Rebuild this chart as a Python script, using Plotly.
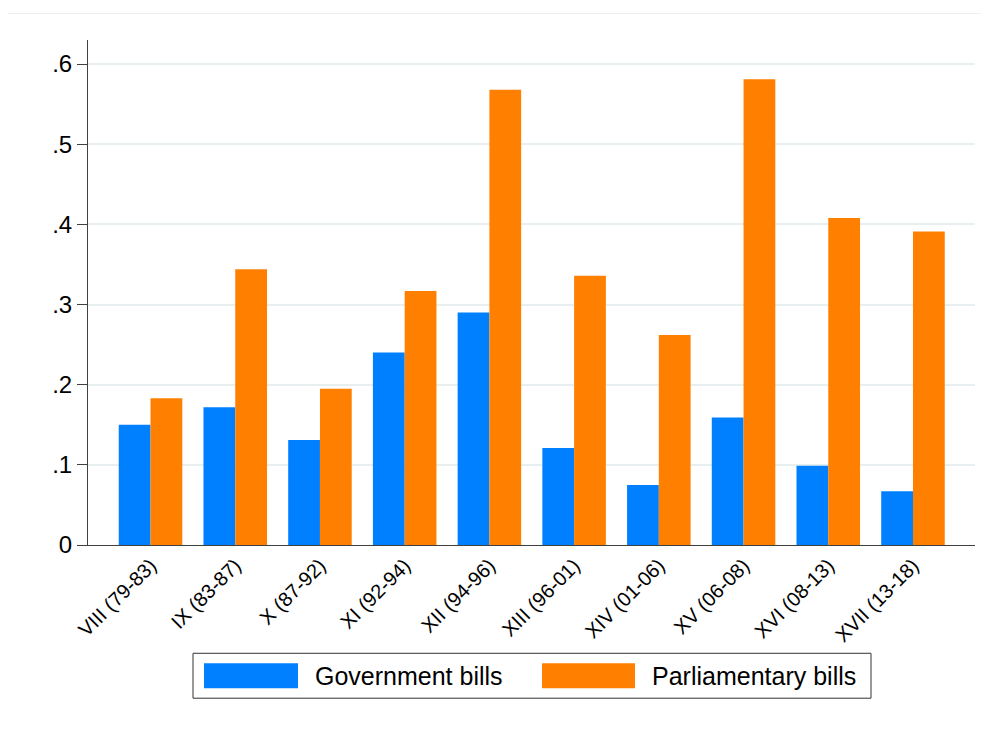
import plotly.graph_objects as go

categories = ["VIII (79-83)", "IX (83-87)", "X (87-92)", "XI (92-94)", "XII (94-96)",
              "XIII (96-01)", "XIV (01-06)", "XV (06-08)", "XVI (08-13)", "XVII (13-18)"]
government_bills = [0.150, 0.172, 0.131, 0.240, 0.290, 0.121, 0.075, 0.159, 0.099, 0.067]
parliamentary_bills = [0.183, 0.344, 0.195, 0.317, 0.568, 0.336, 0.262, 0.581, 0.408, 0.391]
y_tickvals = [0, 0.1, 0.2, 0.3, 0.4, 0.5, 0.6]
y_ticktext = ["0", ".1", ".2", ".3", ".4", ".5", ".6"]

BLUE = "#0080FF"
ORANGE = "#FF8000"
FONT = "Liberation Sans, Arial, sans-serif"

# page offset (browser body margin)
OFF = 8
W, H = 989 - OFF, 729 - OFF
# plot area in page pixels
L, R, T, B = 88, 975, 39.5, 545.5

def px(x):
    return (x - L) / (R - L)

def py(y):
    return (B - y) / (B - T)

xs = list(range(len(categories)))
fig = go.Figure()
fig.add_trace(go.Bar(x=xs, y=government_bills, name="Government bills",
                     marker=dict(color=BLUE, line=dict(width=0))))
fig.add_trace(go.Bar(x=xs, y=parliamentary_bills, name="Parliamentary bills",
                     marker=dict(color=ORANGE, line=dict(width=0))))

fig.update_layout(
    width=W, height=H,
    margin=dict(l=L - OFF, r=(989 - R), t=T - OFF, b=(729 - B), pad=0),
    paper_bgcolor="white", plot_bgcolor="white",
    barmode="group", bargap=0.25, bargroupgap=0,
    showlegend=False,
    font=dict(family=FONT, color="black"),
)
fig.update_xaxes(
    range=[-0.738, 9.732], tickmode="array", tickvals=xs, ticktext=categories,
    tickangle=-45, tickfont=dict(size=20), showgrid=False, zeroline=False,
    showline=True, linecolor="#404040", linewidth=1, ticks="", fixedrange=True,
)
fig.update_yaxes(
    range=[0, 0.630], tickmode="array", tickvals=y_tickvals, ticktext=y_ticktext,
    tickfont=dict(size=24), showgrid=True, gridcolor="#E8EFF1", gridwidth=1.5,
    zeroline=False, showline=True, linecolor="#404040", linewidth=1,
    ticks="outside", ticklen=10, tickcolor="#404040", tickwidth=1,
)

shapes = []
# outer faint frame
shapes.append(dict(type="rect", xref="paper", yref="paper",
                   x0=px(5), x1=px(1000), y0=py(740), y1=py(13),
                   line=dict(color="#EEEEEE", width=1), fillcolor="rgba(0,0,0,0)", layer="below"))
# legend box
shapes.append(dict(type="rect", xref="paper", yref="paper",
                   x0=px(193), x1=px(871), y0=py(699), y1=py(654),
                   line=dict(color="#333333", width=1), fillcolor="white"))
shapes.append(dict(type="rect", xref="paper", yref="paper",
                   x0=px(204), x1=px(298), y0=py(689), y1=py(664),
                   line=dict(width=0), fillcolor=BLUE))
shapes.append(dict(type="rect", xref="paper", yref="paper",
                   x0=px(542), x1=px(635), y0=py(689), y1=py(664),
                   line=dict(width=0), fillcolor=ORANGE))
fig.update_layout(shapes=shapes)

annotations = [
    dict(text="Government bills", xref="paper", yref="paper", x=px(313), y=py(677),
         xanchor="left", yanchor="middle", showarrow=False, font=dict(size=25, family=FONT)),
    dict(text="Parliamentary bills", xref="paper", yref="paper", x=px(650), y=py(677),
         xanchor="left", yanchor="middle", showarrow=False, font=dict(size=25, family=FONT)),
]
fig.update_layout(annotations=annotations)

fig.write_html("out.html")
